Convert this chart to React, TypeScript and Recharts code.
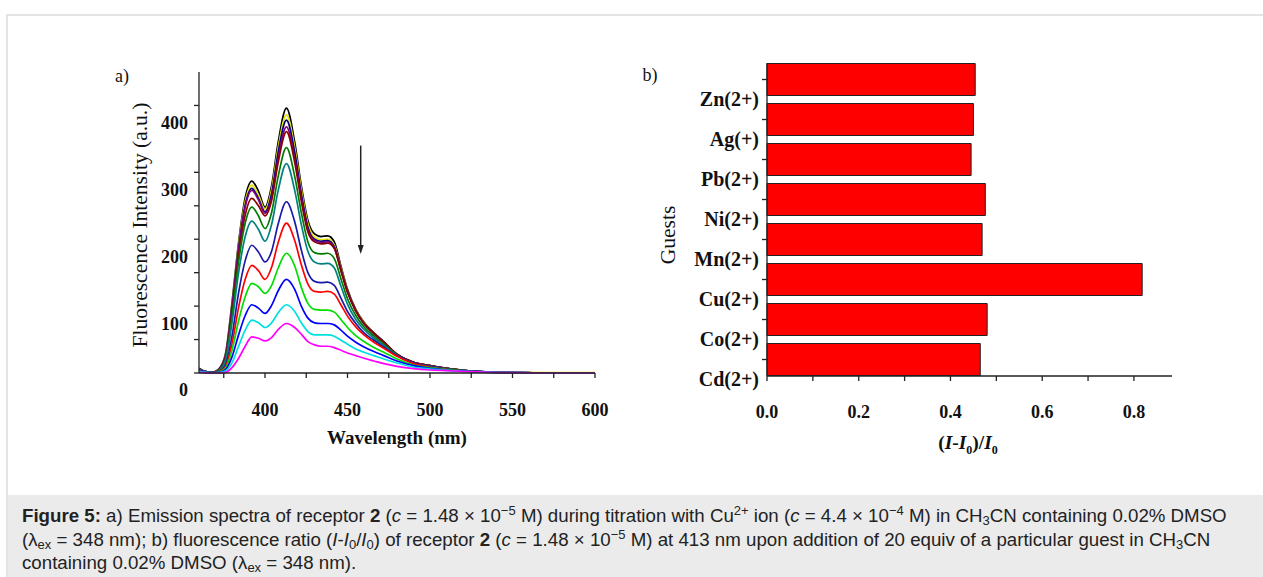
import React from 'react';
import { LineChart, Line, BarChart, Bar, XAxis, YAxis, ReferenceLine } from 'recharts';

// a) emission spectra, one array per titration step (top curve first)
const wavelengths = [360, 364, 368, 372, 376, 380, 384, 388, 392, 396, 400, 404, 408, 413, 418, 422, 426, 430, 434, 438, 442, 446, 450, 455, 460, 466, 472, 480, 490, 500, 510, 520, 535, 550, 575, 600];
const stepBlack = [7, 2, 1, 6, 28, 105, 195, 262, 287, 272, 248, 280, 345, 396, 345, 280, 228, 208, 204, 205, 196, 160, 125, 95, 76, 60, 47, 28, 16, 11, 7, 4, 1.5, 0.5, 0, 0];
const stepYellow = [6, 2, 1, 5, 26, 100, 190, 256, 281, 266, 245, 274, 337, 386, 337, 274, 223, 203, 199, 200, 191, 157, 123, 94, 75, 59, 46, 28, 16, 11, 7, 4, 1.5, 1, 0.5, 0.5];
const stepNavy = [6, 2, 1, 5, 25, 98, 186, 251, 276, 261, 241, 268, 330, 378, 330, 268, 218, 200, 197, 198, 189, 155, 122, 93, 74, 59, 46, 28, 16, 11, 7, 4, 1.5, 0.5, 0, 0];
const stepPurple = [6, 2, 1, 5, 24, 96, 184, 248, 273, 259, 239, 262, 321, 368, 321, 262, 214, 198, 195, 196, 187, 154, 121, 93, 74, 59, 46, 28, 16, 11, 7, 4, 1.5, 0.5, 0, 0];
const stepMaroon = [6, 2, 1, 4, 22, 90, 175, 236, 261, 250, 235, 258, 315, 361, 315, 257, 211, 196, 193, 194, 186, 153, 121, 93, 74, 59, 46, 28, 16, 11, 7, 4, 1.5, 0.5, 0, 0];
const stepDarkGreen = [5, 2, 1, 4, 20, 84, 166, 224, 248, 235, 216, 240, 294, 337, 294, 240, 196, 180, 178, 179, 171, 141, 111, 86, 69, 55, 43, 27, 15, 10, 6.5, 4, 1.5, 0.5, 0, 0];
const stepTeal = [5, 2, 1, 3, 18, 75, 150, 204, 227, 215, 197, 222, 273, 313, 273, 222, 182, 166, 163, 164, 157, 130, 103, 80, 65, 52, 41, 26, 15, 10, 6, 3.5, 1.5, 0.5, 0, 0];
const stepDarkBlue = [4, 2, 1, 2, 12, 55, 120, 168, 191, 181, 166, 182, 223, 256, 226, 184, 150, 137, 135, 136, 131, 112, 92, 74, 60, 49, 39, 26, 15, 10, 6, 3.5, 1.5, 0.5, 0, 0];
const stepRed = [3, 1, 0.5, 2, 9, 44, 98, 140, 161, 153, 140, 158, 195, 224, 198, 162, 133, 122, 121, 122, 118, 102, 85, 69, 57, 46, 37, 25, 14, 9, 5.5, 3, 1.5, 0.5, 0, 0];
const stepGreen = [3, 1, 0.5, 1.5, 7, 34, 78, 114, 134, 129, 119, 131, 157, 179, 160, 128, 104, 95, 94, 94, 91, 80, 68, 56, 47, 38, 31, 21, 12, 8, 5, 3, 1.5, 0.5, 0, 0];
const stepBlue = [3, 1, 0.5, 1, 5, 24, 57, 86, 102, 97, 89, 101, 123, 140, 125, 100, 82, 75, 74, 74, 72, 64, 55, 46, 39, 32, 26, 18, 11, 7, 4.5, 3, 1.5, 0.5, 0, 0];
const stepCyan = [2, 1, 0, 0.5, 3, 15, 40, 64, 79, 75, 68, 75, 90, 102, 92, 75, 62, 57, 57, 57, 55, 49, 43, 36, 31, 26, 21, 15, 9, 6, 4, 2.5, 1, 0.5, 0, 0];
const stepMagenta = [1, 0.5, 0, 0, 1, 8, 22, 40, 54, 52, 48, 53, 65, 74, 68, 58, 47, 42, 40, 40, 38, 34, 30, 26, 22, 18, 14, 10, 6.5, 4.5, 3.5, 2.5, 1, 0.5, 0, 0];

const waveTicks = [375, 400, 425, 450, 475, 500, 525, 550, 575, 600];
const intensityTicks = [0, 50, 100, 150, 200, 250, 300, 350, 400];

// b) fluorescence ratio per guest, bottom to top
const guests = ['Cd(2+)', 'Co(2+)', 'Cu(2+)', 'Mn(2+)', 'Ni(2+)', 'Pb(2+)', 'Ag(+)', 'Zn(2+)'];
const ratios = [0.465, 0.48, 0.818, 0.469, 0.476, 0.445, 0.45, 0.454];
const ratioTicks = [0, 0.1, 0.2, 0.3, 0.4, 0.5, 0.6, 0.7, 0.8];
const guestTicks = [1, 1.5, 2, 2.5, 3, 3.5, 4, 4.5, 5, 5.5, 6, 6.5, 7, 7.5, 8];

const steps = [stepBlack, stepYellow, stepNavy, stepPurple, stepMaroon, stepDarkGreen, stepTeal, stepDarkBlue, stepRed, stepGreen, stepBlue, stepCyan, stepMagenta];
const stepColors = ['#000000', '#e6e600', '#000080', '#800080', '#8b0000', '#007a00', '#008080', '#1a1aa8', '#ff0000', '#00dd00', '#0000ff', '#00e0e0', '#ff00ff'];

const spectra = wavelengths.map((w, i) => {
  const row: any = { w };
  steps.forEach((s, k) => { row['s' + k] = s[i]; });
  return row;
});

const guestRows = guests.map((g, i) => ({ guest: g, pos: i + 1, ratio: ratios[i] }));

const serif = '"Liberation Serif", "Times New Roman", serif';
const axisColor = '#222';

function WaveTick({ x, y, payload }: any) {
  if (payload.value % 50 !== 0) return <g />;
  return (
    <text x={x} y={y + 30} dy="0.355em" textAnchor="middle" fontFamily={serif} fontWeight="bold" fontSize={18} fill="#111">
      {payload.value}
    </text>
  );
}

function IntensityTick({ x, y, payload }: any) {
  if (payload.value % 100 !== 0) return <g />;
  return (
    <text x={x - 4} y={y + 17} dy="0.355em" textAnchor="end" fontFamily={serif} fontWeight="bold" fontSize={18} fill="#111">
      {payload.value}
    </text>
  );
}

function RatioTick({ x, y, payload }: any) {
  const v = Math.round(payload.value * 10);
  if (v % 2 !== 0) return <g />;
  return (
    <text x={x} y={y + 29} dy="0.355em" textAnchor="middle" fontFamily={serif} fontWeight="bold" fontSize={18} fill="#111">
      {(v / 10).toFixed(1)}
    </text>
  );
}

function GuestTick({ x, y, payload }: any) {
  if (!Number.isInteger(payload.value)) return <g />;
  return (
    <text x={x - 1} y={y + 19} dy="0.355em" textAnchor="end" fontFamily={serif} fontWeight="bold" fontSize={20} fill="#111">
      {guests[payload.value - 1]}
    </text>
  );
}

// down arrow drawn from the reference segment
function Arrow(props: any) {
  const { x1, y1, x2, y2 } = props;
  const top = Math.min(y1, y2);
  const bottom = Math.max(y1, y2);
  return (
    <g>
      <line x1={x1} y1={top} x2={x2} y2={bottom - 6} stroke={axisColor} strokeWidth={1.5} />
      <path d={`M${x2 - 3},${bottom - 9} L${x2 + 3},${bottom - 9} L${x2},${bottom} Z`} fill={axisColor} />
    </g>
  );
}

const abs = (left: number, top: number, extra: any = {}): any => ({
  position: 'absolute', left, top, transform: 'translate(-50%, -50%)', whiteSpace: 'nowrap', fontFamily: serif, color: '#111', ...extra,
});

const sub = { fontSize: 13, position: 'relative' as const, top: 3, verticalAlign: 'baseline' };
const sup = { fontSize: 13, position: 'relative' as const, top: -7, verticalAlign: 'baseline' };

export default function App() {
  return (
    <div style={{ position: 'absolute', left: 0, top: 0, width: 1263, height: 577, overflow: 'hidden', background: '#fff' }}>
      <div style={{ position: 'absolute', left: 6, top: 14, width: 1280, height: 620, border: '2px solid #e4e4e4', boxSizing: 'border-box' }} />

      {/* a) spectra */}
      <div style={{ position: 'absolute', left: 0, top: 0 }}>
        <LineChart width={620} height={470} data={spectra} margin={{ top: 72, right: 25, bottom: 67, left: 119 }}>
          <XAxis
            dataKey="w"
            type="number"
            domain={[360, 600]}
            ticks={waveTicks}
            tick={WaveTick}
            tickSize={5}
            height={30}
            axisLine={{ stroke: axisColor, strokeWidth: 1.3 }}
            tickLine={{ stroke: axisColor, strokeWidth: 1.3 }}
            allowDataOverflow
          />
          <YAxis
            type="number"
            domain={[0, 450]}
            ticks={intensityTicks}
            tick={IntensityTick}
            tickSize={5}
            width={80}
            axisLine={{ stroke: axisColor, strokeWidth: 1.3 }}
            tickLine={{ stroke: axisColor, strokeWidth: 1.3 }}
          />
          {steps.map((_, k) => (
            <Line
              key={k}
              type="monotone"
              dataKey={'s' + k}
              stroke={stepColors[k]}
              strokeWidth={1.7}
              dot={false}
              isAnimationActive={false}
            />
          ))}
          <ReferenceLine segment={[{ x: 458, y: 340 }, { x: 458, y: 178 }]} shape={Arrow} />
        </LineChart>
      </div>
      <div style={abs(122, 76, { fontSize: 18 })}>a)</div>
      <div style={abs(140, 225, { fontSize: 21.5, transform: 'translate(-50%, -50%) rotate(-90deg)' })}>
        Fluorescence Intensity (a.u.)
      </div>
      <div style={abs(397, 438, { fontSize: 19, fontWeight: 'bold' })}>Wavelength (nm)</div>

      {/* b) ratio bars */}
      <div style={{ position: 'absolute', left: 620, top: 0 }}>
        <BarChart layout="vertical" width={643} height={470} data={guestRows} margin={{ top: 63, right: 91, bottom: 64, left: 47 }}>
          <XAxis
            type="number"
            domain={[0, 0.883]}
            ticks={ratioTicks}
            tick={RatioTick}
            tickSize={5}
            height={30}
            axisLine={{ stroke: axisColor, strokeWidth: 1.3 }}
            tickLine={{ stroke: axisColor, strokeWidth: 1.3 }}
          />
          <YAxis
            type="number"
            dataKey="pos"
            domain={[0.5875, 8.4125]}
            ticks={guestTicks}
            tick={GuestTick}
            tickSize={5}
            width={100}
            reversed
            axisLine={{ stroke: axisColor, strokeWidth: 1.3 }}
            tickLine={{ stroke: axisColor, strokeWidth: 1.3 }}
          />
          <Bar dataKey="ratio" fill="#ff0000" stroke="#222" strokeWidth={1} barSize={32} isAnimationActive={false} />
        </BarChart>
      </div>
      <div style={abs(650, 75, { fontSize: 18 })}>b)</div>
      <div style={abs(668, 235, { fontSize: 21.5, transform: 'translate(-50%, -50%) rotate(-90deg)' })}>Guests</div>
      <div style={abs(968, 445, { fontSize: 19.5, fontWeight: 'bold' })}>
        (<i>I</i>-<i>I</i><sub style={{ fontSize: 12 }}>0</sub>)/<i>I</i><sub style={{ fontSize: 12 }}>0</sub>
      </div>

      {/* caption */}
      <div
        style={{
          position: 'absolute', left: 8, top: 495, width: 1255, height: 90, background: '#ebebeb',
          boxSizing: 'border-box', padding: '10px 14px', fontFamily: '"Liberation Sans", Arial, sans-serif',
          fontSize: 18.7, lineHeight: '21.5px', color: '#222', whiteSpace: 'nowrap',
        }}
      >
        <b>Figure 5:</b> a) Emission spectra of receptor <b>2</b> (<i>c</i> = 1.48 × 10<span style={sup}>−5</span> M) during titration with Cu<span style={sup}>2+</span> ion (<i>c</i> = 4.4 × 10<span style={sup}>−4</span> M) in CH<span style={sub}>3</span>CN containing 0.02% DMSO
        <br />
        (λ<span style={sub}>ex</span> = 348 nm); b) fluorescence ratio (<i>I</i>-<i>I</i><span style={sub}>0</span>/<i>I</i><span style={sub}>0</span>) of receptor <b>2</b> (<i>c</i> = 1.48 × 10<span style={sup}>−5</span> M) at 413 nm upon addition of 20 equiv of a particular guest in CH<span style={sub}>3</span>CN
        <br />
        containing 0.02% DMSO (λ<span style={sub}>ex</span> = 348 nm).
      </div>
    </div>
  );
}
